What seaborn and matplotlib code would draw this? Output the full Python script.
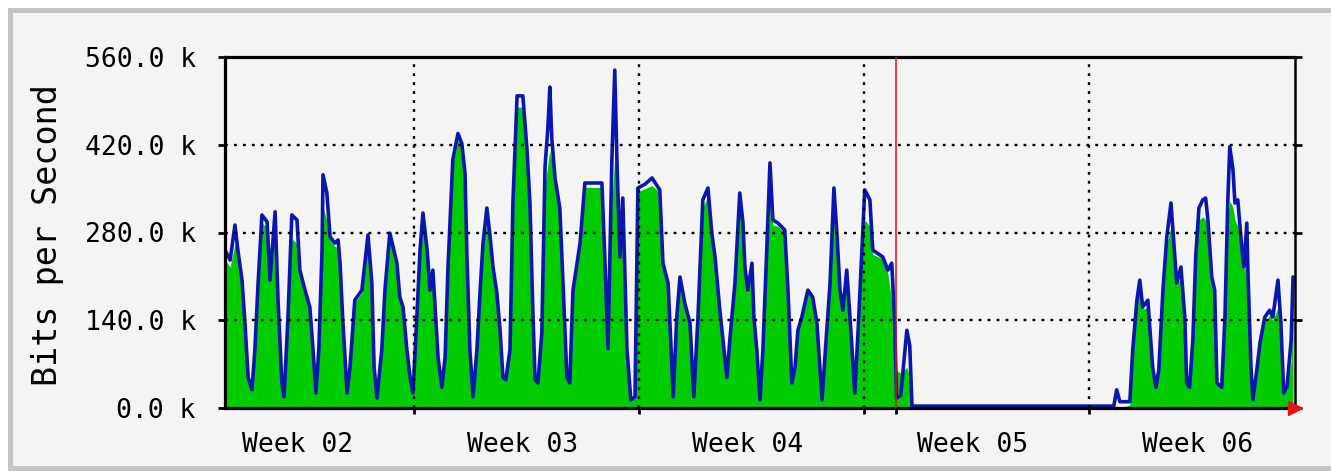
import matplotlib
matplotlib.use("Agg")
import matplotlib.pyplot as plt
from matplotlib.patches import Rectangle
import seaborn as sns

# MRTG "monthly" graph: traffic in (green area) and out (blue line), kbit/s
# time axis in days from the left edge of the graph

days = [0.00, 0.16, 0.31, 0.40, 0.53, 0.62, 0.72, 0.84, 0.93, 1.03,
        1.15, 1.31, 1.40, 1.56, 1.65, 1.77, 1.84, 1.96, 2.08, 2.24,
        2.33, 2.49, 2.64, 2.74, 2.83, 2.92, 3.02, 3.05, 3.17, 3.27,
        3.42, 3.52, 3.58, 3.67, 3.80, 3.89, 4.04, 4.26, 4.45, 4.57,
        4.64, 4.73, 4.88, 4.98, 5.13, 5.35, 5.44, 5.54, 5.66, 5.76,
        5.85, 5.97, 6.07, 6.16, 6.29, 6.38, 6.47, 6.53, 6.63, 6.75,
        6.85, 6.94, 7.03, 7.09, 7.25, 7.37, 7.47, 7.53, 7.62, 7.72,
        7.84, 7.94, 8.03, 8.15, 8.25, 8.34, 8.46, 8.56, 8.65, 8.74,
        8.87, 8.96, 9.09, 9.27, 9.40, 9.49, 9.58, 9.65, 9.74, 9.86,
        9.96, 10.05, 10.11, 10.17, 10.27, 10.42, 10.52, 10.64, 10.73, 10.83,
        11.05, 11.20, 11.73, 11.82, 11.92, 12.04, 12.13, 12.20, 12.29, 12.38,
        12.51, 12.63, 12.76, 12.85, 13.07, 13.29, 13.53, 13.63, 13.79, 13.95,
        14.06, 14.16, 14.31, 14.47, 14.59, 14.72, 14.87, 15.03, 15.15, 15.25,
        15.40, 15.62, 15.71, 15.87, 16.02, 16.12, 16.18, 16.27, 16.40, 16.46,
        16.55, 16.65, 16.74, 16.86, 16.96, 17.05, 17.21, 17.42, 17.52, 17.64,
        17.74, 17.83, 17.95, 18.14, 18.29, 18.42, 18.58, 18.67, 18.83, 18.95,
        19.05, 19.14, 19.23, 19.35, 19.45, 19.60, 19.70, 19.82, 19.91, 20.07,
        20.16, 20.47, 20.63, 20.75, 20.84, 20.90, 21.03, 21.22, 21.31, 21.38,
        27.54, 27.66, 27.75, 27.85, 28.16, 28.25, 28.38, 28.47, 28.56, 28.72,
        28.78, 28.87, 28.97, 29.06, 29.19, 29.31, 29.44, 29.56, 29.62, 29.75,
        29.87, 29.93, 30.02, 30.12, 30.21, 30.31, 30.43, 30.52, 30.59, 30.71,
        30.80, 30.87, 31.02, 31.12, 31.21, 31.27, 31.37, 31.43, 31.52, 31.65,
        31.71, 31.80, 31.84, 31.93, 31.99, 32.11, 32.21, 32.36, 32.51, 32.61,
        32.77, 32.86, 32.95, 33.05, 33.18, 33.24]

out_k = [252, 236, 292, 252, 204, 136, 49, 29, 93, 199,
         308, 297, 204, 313, 172, 40, 18, 145, 308, 300,
         220, 188, 161, 93, 24, 93, 252, 372, 343, 273,
         263, 268, 231, 136, 24, 65, 172, 188, 276, 199,
         65, 16, 93, 190, 279, 231, 177, 161, 93, 49,
         24, 145, 252, 311, 252, 188, 220, 167, 81, 33,
         81, 225, 327, 396, 438, 422, 374, 241, 93, 18,
         93, 188, 263, 319, 273, 225, 184, 124, 49, 45,
         93, 327, 498, 498, 411, 327, 156, 45, 40, 120,
         385, 448, 512, 431, 367, 319, 199, 49, 40, 188,
         263, 359, 359, 241, 95, 396, 539, 391, 241, 335,
         93, 13, 18, 351, 357, 367, 348, 231, 199, 18,
         145, 209, 167, 136, 18, 145, 332, 351, 279, 241,
         156, 49, 108, 199, 343, 295, 225, 188, 231, 145,
         93, 13, 93, 252, 391, 300, 295, 284, 188, 40,
         65, 124, 145, 188, 177, 136, 13, 81, 199, 351,
         273, 188, 156, 220, 145, 24, 120, 252, 348, 332,
         252, 241, 220, 231, 140, 16, 20, 124, 100, 3,
         3, 3, 29, 10, 10, 93, 172, 204, 161, 172,
         129, 65, 33, 60, 188, 273, 327, 241, 199, 225,
         145, 40, 33, 108, 241, 319, 332, 335, 300, 209,
         188, 40, 33, 145, 332, 417, 380, 327, 332, 252,
         225, 295, 209, 65, 13, 60, 104, 145, 156, 145,
         204, 136, 24, 33, 108, 209]

in_k = [236, 225, 262, 245, 200, 132, 52, 32, 90, 192,
        295, 288, 200, 275, 168, 42, 22, 142, 270, 262,
        217, 184, 158, 90, 27, 90, 245, 320, 300, 268,
        258, 255, 228, 132, 27, 65, 168, 184, 262, 197,
        65, 20, 90, 184, 268, 222, 173, 158, 90, 49,
        27, 142, 245, 285, 245, 186, 205, 164, 80, 33,
        80, 220, 318, 388, 428, 415, 366, 238, 91, 20,
        91, 184, 252, 300, 265, 220, 180, 122, 49, 45,
        91, 318, 480, 480, 402, 320, 153, 45, 40, 117,
        355, 390, 410, 395, 360, 314, 197, 49, 40, 184,
        258, 352, 352, 238, 95, 330, 400, 370, 238, 275,
        91, 16, 20, 345, 350, 355, 344, 228, 195, 20,
        142, 195, 164, 133, 20, 142, 320, 338, 274, 238,
        153, 49, 106, 195, 315, 287, 220, 184, 210, 142,
        91, 16, 91, 245, 330, 292, 290, 280, 184, 40,
        65, 122, 142, 184, 173, 133, 16, 80, 195, 320,
        260, 184, 153, 195, 142, 27, 117, 245, 300, 290,
        245, 238, 215, 170, 130, 60, 55, 65, 50, 0,
        0, 0, 0, 0, 5, 88, 165, 192, 158, 160,
        127, 65, 33, 60, 184, 260, 290, 238, 195, 210,
        142, 40, 33, 106, 238, 300, 305, 300, 285, 205,
        184, 40, 33, 142, 305, 330, 320, 300, 290, 240,
        220, 230, 200, 65, 16, 60, 102, 138, 148, 140,
        160, 128, 27, 28, 75, 170]

week_starts = [5.88, 12.88, 19.88, 26.88]
week_centers = [2.26, 9.26, 16.26, 23.26, 30.26]
week_labels = ["Week 02", "Week 03", "Week 04", "Week 05", "Week 06"]
y_ticks = [0, 140, 280, 420, 560]
now_day = 20.88      # red marker line
x_end = 33.30

sns.set_style("ticks")
plt.rcParams["font.family"] = ["DejaVu Sans Mono", "DejaVu Sans"]

W, H = 1331, 476
fig = plt.figure(figsize=(W / 100, H / 100), dpi=100, facecolor="white")
fig.patches.append(Rectangle((9.5 / W, 8 / H), 2.0, 458.5 / H, transform=fig.transFigure,
                             facecolor="#f4f4f4", edgecolor="#c4c4c4", linewidth=3.6, zorder=-10))

ax = fig.add_axes([225 / W, 68 / H, 1070 / W, 351 / H])
ax.set_facecolor("#f4f4f4")

ax.fill_between(days, in_k, 0, color="#00cc00", linewidth=0, zorder=1)
sns.lineplot(x=days, y=out_k, ax=ax, color="#0a16b0", linewidth=2.6, zorder=2)
ax.axvline(now_day, color="#e01010", linewidth=1.1, zorder=3)

ax.set_xlim(0, x_end)
ax.set_ylim(0, 560)

ax.set_yticks(y_ticks)
ax.set_yticklabels([f"{v:.1f} k" for v in y_ticks])
ax.set_xticks(week_starts + [now_day])
ax.set_xticklabels([])
ax.set_xticks(week_centers, minor=True)
ax.set_xticklabels(week_labels, minor=True)

ax.grid(False)
for x in week_starts:
    ax.axvline(x, color="black", linestyle=(0, (1.2, 2.6)), linewidth=1.7, zorder=4)
for y in y_ticks[1:-1]:
    ax.axhline(y, color="black", linestyle=(0, (1.2, 2.6)), linewidth=1.7, zorder=4)

ax.tick_params(axis="y", which="major", direction="out", length=5, width=2,
               left=True, right=True, pad=16, labelsize=19, colors="black", labelcolor="black")
ax.tick_params(axis="x", which="major", direction="out", length=4.5, width=2,
               bottom=True, top=False, colors="black")
ax.tick_params(axis="x", which="minor", length=0, pad=17, labelsize=19, labelcolor="black")

for side in ["top", "bottom", "left", "right"]:
    ax.spines[side].set_visible(True)
    ax.spines[side].set_color("black")
    ax.spines[side].set_linewidth(2.3)
ax.spines["right"].set_linewidth(1.8)

ax.set_xlabel("")
ax.set_ylabel("")
fig.text(48 / W, 1 - 235 / H, "Bits per Second", rotation=90, ha="center", va="center",
         fontsize=24, color="black")

ax.plot([1.0], [0.0], marker=">", color="#ee1111", markersize=10, transform=ax.transAxes,
        clip_on=False, zorder=6)

fig.savefig("out.png", dpi=100, facecolor=fig.get_facecolor())
